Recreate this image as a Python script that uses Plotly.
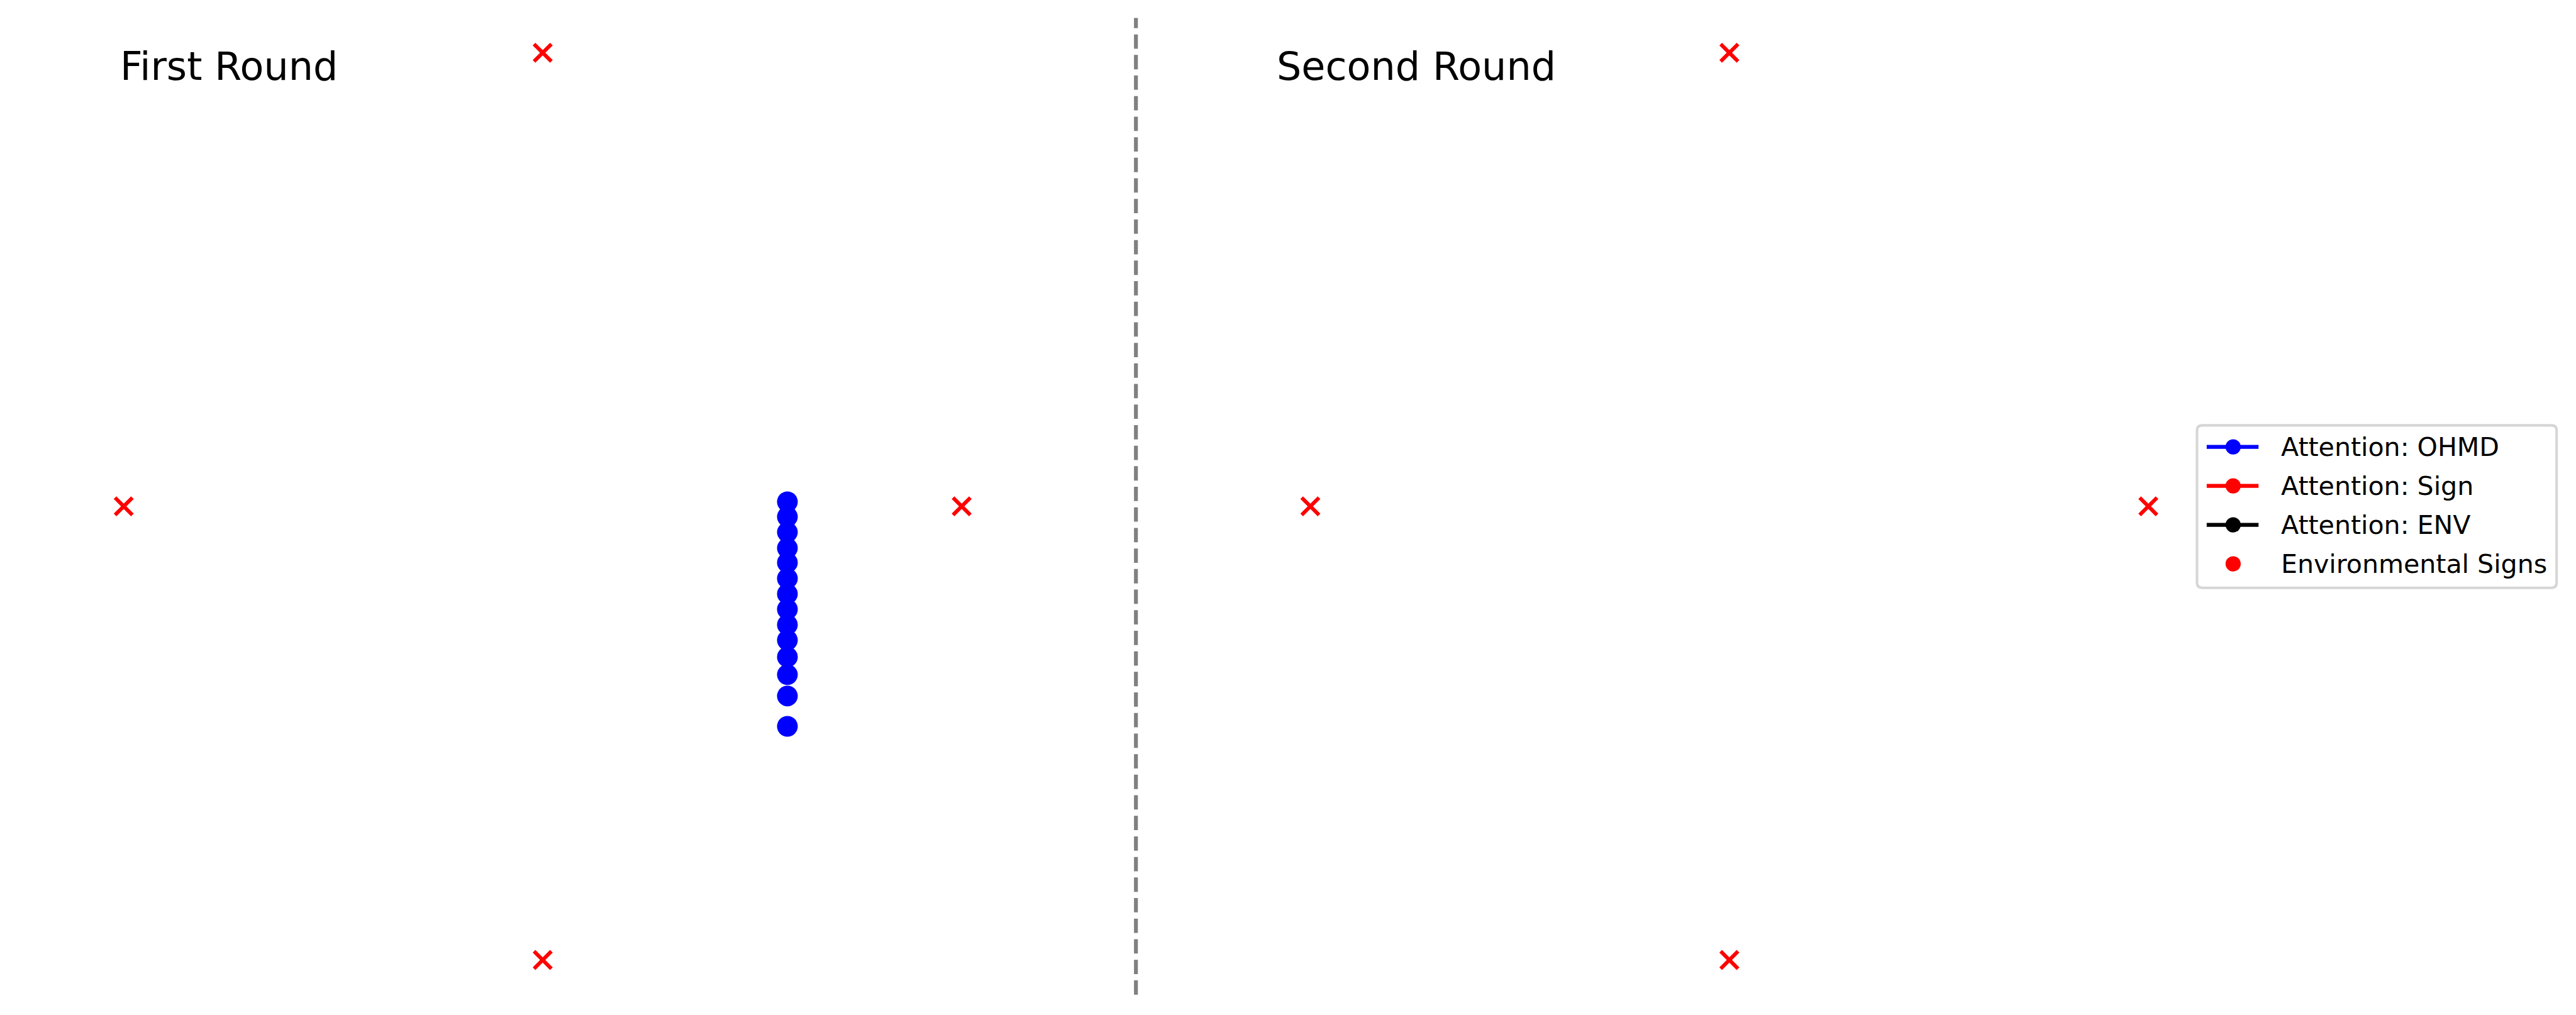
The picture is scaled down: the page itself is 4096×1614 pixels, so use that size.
import plotly.graph_objects as go

# ---------------- data ----------------
round_titles = ["First Round", "Second Round"]

# environmental signs (same four positions in both rounds)
signs_x = [0, -1, 1, 0]
signs_y = [1, 0, 0, -1]

# attention on OHMD (first round only)
ohmd_r1_x = [0.584] * 14
ohmd_r1_y = [0.010, -0.023, -0.057, -0.092, -0.124, -0.159, -0.193,
             -0.227, -0.261, -0.295, -0.332, -0.371, -0.418, -0.485]
ohmd_r2_x = []
ohmd_r2_y = []

legend_labels = ["Attention: OHMD", "Attention: Sign", "Attention: ENV", "Environmental Signs"]
legend_colors = ["#0000ff", "#ff0000", "#000000", "#ff0000"]
legend_has_line = [True, True, True, False]

# ---------------- layout geometry (pixels) ----------------
W, H = 4096, 1614
S = 0.987
FONT = "DejaVu Sans"

def px(x):
    return x / W

def py(y):
    return 1 - y / H

X0 = [874.3 * S, 2786.0 * S]   # pixel of data x = 0 in each panel
UX = 675.0 * S                  # pixels per data unit (x)
Y0 = 815.8 * S                  # pixel of data y = 0
UY = 730.8 * S                  # pixels per data unit (y)
XR = [-1.2, 1.2]
YR = [-1.1, 1.1]

fig = go.Figure()

axis_common = dict(visible=False, showgrid=False, zeroline=False, fixedrange=True)
for i in range(2):
    xd = [(X0[i] + XR[0] * UX) / W, (X0[i] + XR[1] * UX) / W]
    yd = [1 - (Y0 - YR[0] * UY) / H, 1 - (Y0 - YR[1] * UY) / H]
    xa = "xaxis" if i == 0 else "xaxis2"
    ya = "yaxis" if i == 0 else "yaxis2"
    fig.update_layout(**{
        xa: dict(domain=xd, range=XR, anchor="y" if i == 0 else "y2", **axis_common),
        ya: dict(domain=yd, range=YR, anchor="x" if i == 0 else "x2", **axis_common),
    })

ohmd = [(ohmd_r1_x, ohmd_r1_y), (ohmd_r2_x, ohmd_r2_y)]
for i in range(2):
    xr = "x" if i == 0 else "x2"
    yr = "y" if i == 0 else "y2"
    fig.add_trace(go.Scatter(
        x=signs_x, y=signs_y, xaxis=xr, yaxis=yr, mode="markers",
        marker=dict(symbol="x-thin", size=27.6, color="#ff0000",
                    line=dict(color="#ff0000", width=6)),
        showlegend=False, hoverinfo="skip"))
    fig.add_trace(go.Scatter(
        x=ohmd[i][0], y=ohmd[i][1], xaxis=xr, yaxis=yr, mode="markers",
        marker=dict(symbol="circle", size=33, color="#0000ff", line=dict(width=0)),
        showlegend=False, hoverinfo="skip"))

shapes = []
annotations = []

# dashed separator
shapes.append(dict(type="line", xref="paper", yref="paper",
                   x0=px(1830 * S), x1=px(1830 * S),
                   y0=py(1602.5 * S), y1=py(29 * S),
                   line=dict(color="#808080", width=6.2, dash="22.8px,9.9px")))

# titles
title_x = [191 * S, 2055 * S]
title_cy = 106.7 * S
for i, t in enumerate(round_titles):
    annotations.append(dict(text=t, xref="paper", yref="paper",
                            x=px(title_x[i]), y=py(title_cy),
                            xanchor="left", yanchor="middle", showarrow=False,
                            font=dict(family=FONT, size=62, color="#000000")))

# legend frame (rounded rectangle)
lx0, lx1 = 3539.4 * S, 4118.7 * S
ly0, ly1 = 685.3 * S, 947.0 * S
r = 8.2
path = (f"M {px(lx0 + r)},{py(ly0)} L {px(lx1 - r)},{py(ly0)} "
        f"Q {px(lx1)},{py(ly0)} {px(lx1)},{py(ly0 + r)} "
        f"L {px(lx1)},{py(ly1 - r)} Q {px(lx1)},{py(ly1)} {px(lx1 - r)},{py(ly1)} "
        f"L {px(lx0 + r)},{py(ly1)} Q {px(lx0)},{py(ly1)} {px(lx0)},{py(ly1 - r)} "
        f"L {px(lx0)},{py(ly0 + r)} Q {px(lx0)},{py(ly0)} {px(lx0 + r)},{py(ly0)} Z")
shapes.append(dict(type="path", xref="paper", yref="paper", path=path,
                   fillcolor="rgba(255,255,255,0.8)",
                   line=dict(color="#d6d6d6", width=4.1)))

row0 = 720.0 * S
row_step = 62.8 * S
line_x0, line_x1 = 3555.0 * S, 3638.5 * S
mark_x = 3597.6 * S
text_x = 3673.0 * S
mr = 12.1
for k, (lab, col, hasline) in enumerate(zip(legend_labels, legend_colors, legend_has_line)):
    yy = row0 + k * row_step
    if hasline:
        shapes.append(dict(type="line", xref="paper", yref="paper",
                           x0=px(line_x0), x1=px(line_x1), y0=py(yy), y1=py(yy),
                           line=dict(color=col, width=6.2)))
    shapes.append(dict(type="circle", xref="paper", yref="paper",
                       xsizemode="pixel", ysizemode="pixel",
                       xanchor=px(mark_x), yanchor=py(yy),
                       x0=-mr, x1=mr, y0=-mr, y1=mr,
                       fillcolor=col, line=dict(width=0)))
    annotations.append(dict(text=lab, xref="paper", yref="paper",
                            x=px(text_x), y=py(yy), xanchor="left", yanchor="middle",
                            showarrow=False,
                            font=dict(family=FONT, size=41.1, color="#000000")))

fig.update_layout(
    width=W, height=H, autosize=False,
    margin=dict(l=0, r=0, t=0, b=0, pad=0),
    paper_bgcolor="white", plot_bgcolor="white",
    showlegend=False,
    shapes=shapes, annotations=annotations,
    font=dict(family=FONT),
)

fig.write_html("out.html")
